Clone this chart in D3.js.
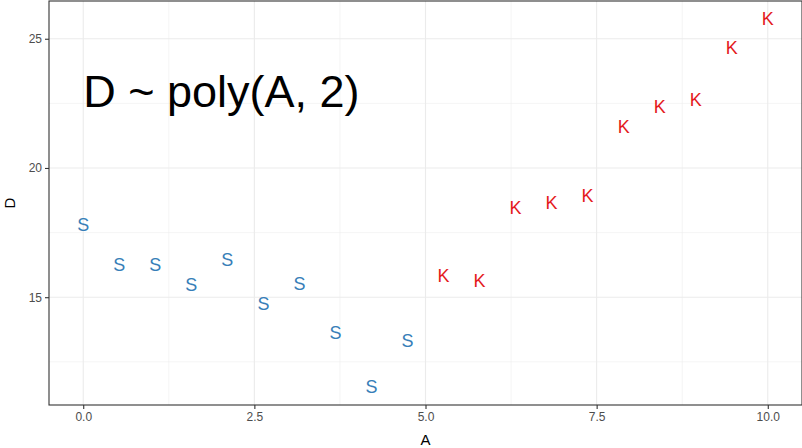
<!DOCTYPE html>
<html>
<head>
<meta charset="utf-8">
<script src="https://cdn.jsdelivr.net/npm/d3@7"></script>
<style>
  body { margin: 0; background: #fff; }
  svg { display: block; font-family: "Liberation Sans", Arial, sans-serif; }
</style>
</head>
<body>
<div id="chart"></div>
<script>
// data
const aValues = [0, 0.526, 1.053, 1.579, 2.105, 2.632, 3.158, 3.684, 4.211, 4.737,
                 5.263, 5.789, 6.316, 6.842, 7.368, 7.895, 8.421, 8.947, 9.474, 10];
const dValues = [17.78, 16.26, 16.24, 15.48, 16.44, 14.73, 15.50, 13.62, 11.54, 13.31,
                 15.82, 15.62, 18.45, 18.64, 18.91, 21.58, 22.35, 22.62, 24.66, 25.75];
const groups = ['S', 'S', 'S', 'S', 'S', 'S', 'S', 'S', 'S', 'S',
                'K', 'K', 'K', 'K', 'K', 'K', 'K', 'K', 'K', 'K'];
const xTicks = [0, 2.5, 5, 7.5, 10];
const yTicks = [15, 20, 25];
const formulaLabel = 'D ~ poly(A, 2)';

const W = 802, H = 448;
const margin = { top: 1, right: 0, bottom: 43, left: 49 };
const width = W - margin.left - margin.right;
const height = H - margin.top - margin.bottom;

const svg = d3.select('#chart').append('svg')
  .attr('width', W).attr('height', H);

const g = svg.append('g')
  .attr('transform', `translate(${margin.left},${margin.top})`);

// ggplot-style 5% expansion
const xExt = d3.extent(aValues), yExt = d3.extent(dValues);
const xPad = (xExt[1] - xExt[0]) * 0.05, yPad = (yExt[1] - yExt[0]) * 0.05;

const x = d3.scaleLinear().domain([xExt[0] - xPad, xExt[1] + xPad]).range([0, width]);
const y = d3.scaleLinear().domain([yExt[0] - yPad, yExt[1] + yPad]).range([height, 0]);

const color = d3.scaleOrdinal().domain(['S', 'K']).range(['#377EB8', '#E41A1C']);

// minor gridlines
const xMinor = xTicks.slice(0, -1).map((d, i) => (d + xTicks[i + 1]) / 2);
const yMinor = [12.5, 17.5, 22.5];

g.append('g').selectAll('line').data(xMinor).join('line')
  .attr('x1', d => x(d)).attr('x2', d => x(d))
  .attr('y1', 0).attr('y2', height)
  .style('stroke', '#EBEBEB').style('stroke-width', 0.55);
g.append('g').selectAll('line').data(yMinor).join('line')
  .attr('x1', 0).attr('x2', width)
  .attr('y1', d => y(d)).attr('y2', d => y(d))
  .style('stroke', '#EBEBEB').style('stroke-width', 0.55);

// major gridlines
g.append('g').selectAll('line').data(xTicks).join('line')
  .attr('x1', d => x(d)).attr('x2', d => x(d))
  .attr('y1', 0).attr('y2', height)
  .style('stroke', '#EBEBEB').style('stroke-width', 1.1);
g.append('g').selectAll('line').data(yTicks).join('line')
  .attr('x1', 0).attr('x2', width)
  .attr('y1', d => y(d)).attr('y2', d => y(d))
  .style('stroke', '#EBEBEB').style('stroke-width', 1.1);

// points drawn as letters
g.append('g').selectAll('text').data(aValues).join('text')
  .attr('x', d => x(d))
  .attr('y', (d, i) => y(dValues[i]))
  .attr('text-anchor', 'middle')
  .attr('dominant-baseline', 'central')
  .style('font-size', '18px')
  .style('fill', (d, i) => color(groups[i]))
  .text((d, i) => groups[i]);

// formula annotation
g.append('text')
  .attr('x', x(0))
  .attr('y', y(22.95))
  .attr('dominant-baseline', 'central')
  .style('font-size', '45px')
  .style('fill', '#000')
  .text(formulaLabel);

// axes
const xAxis = g.append('g')
  .attr('transform', `translate(0,${height})`)
  .call(d3.axisBottom(x).tickValues(xTicks).tickFormat(d3.format('.1f')).tickSize(4).tickSizeOuter(0));
const yAxis = g.append('g')
  .call(d3.axisLeft(y).tickValues(yTicks).tickSize(4).tickSizeOuter(0));

[xAxis, yAxis].forEach(a => {
  a.select('.domain').remove();
  a.selectAll('.tick line').style('stroke', '#333333').style('stroke-width', 1.1);
  a.selectAll('.tick text').style('fill', '#4D4D4D').style('font-size', '12px')
    .attr('font-family', null);
});
xAxis.selectAll('.tick text').attr('dy', '0.75em').attr('y', 7);
yAxis.selectAll('.tick text').attr('x', -7);

// panel border
g.append('rect')
  .attr('x', 0).attr('y', 0).attr('width', width).attr('height', height)
  .style('fill', 'none').style('stroke', '#333333').style('stroke-width', 1.1);

// axis titles
svg.append('text')
  .attr('x', margin.left + x(5))
  .attr('y', H - 3)
  .attr('text-anchor', 'middle')
  .style('font-size', '15px')
  .text('A');
svg.append('text')
  .attr('transform', `translate(15,${margin.top + height / 2}) rotate(-90)`)
  .attr('text-anchor', 'middle')
  .style('font-size', '15px')
  .text('D');
</script>
</body>
</html>
